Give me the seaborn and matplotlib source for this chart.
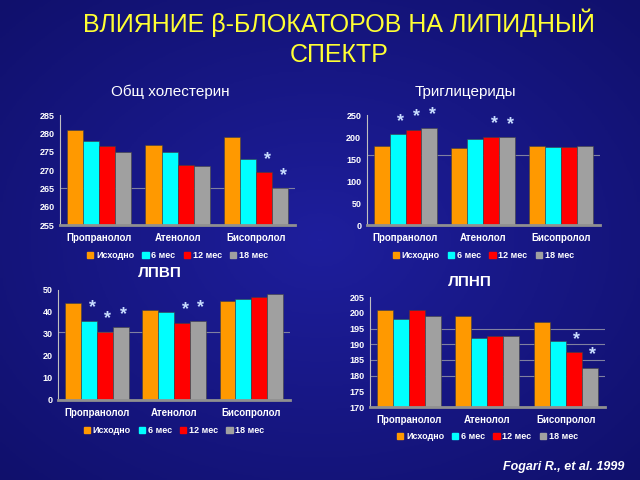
import numpy as np
import pandas as pd
import seaborn as sns
import matplotlib.pyplot as plt
from matplotlib.patches import Patch

# Data
drugs = ['Пропранолол', 'Атенолол', 'Бисопролол']
periods = ['Исходно', '6 мес', '12 мес', '18 мес']
colors = ['#ff9900', '#00ffff', '#ff0000', '#a0a0a0']

chol = [[281, 278, 276.5, 275], [277, 275, 271.5, 271], [279, 273, 269.5, 265]]
tg = [[181, 207, 217, 222], [175, 195, 201, 200], [180, 178, 177, 180]]
hdl = [[44, 36, 31, 33], [41, 40, 35, 36], [45, 46, 47, 48]]
ldl = [[201, 198, 201, 199], [199, 192, 192.5, 192.5], [197, 191, 187.5, 182.5]]

# significance marks: (drug index, period index)
chol_stars = [(2, 2), (2, 3)]
tg_stars = [(0, 1), (0, 2), (0, 3), (1, 2), (1, 3)]
hdl_stars = [(0, 1), (0, 2), (0, 3), (1, 2), (1, 3)]
ldl_stars = [(2, 2), (2, 3)]

sns.set_style('white')
plt.rcParams['font.family'] = ['Liberation Sans', 'DejaVu Sans']

fig = plt.figure(figsize=(6.4, 4.8), dpi=100)

# dark blue slide background
bg = fig.add_axes([0, 0, 1, 1])
yy, xx = np.mgrid[0:1:200j, 0:1:200j]
r = np.sqrt((xx - 0.5) ** 2 + (yy - 0.5) ** 2)
bg.imshow(r, cmap=sns.blend_palette(['#1e1e9c', '#10106c'], as_cmap=True),
          extent=[0, 1, 0, 1], aspect='auto')
bg.axis('off')


def panel(rect, values, ylim, step, stars, title, title_xy, legend_y, grid=()):
    ax = fig.add_axes(rect)
    df = pd.DataFrame([(d, p, values[i][j]) for i, d in enumerate(drugs)
                       for j, p in enumerate(periods)],
                      columns=['drug', 'period', 'value'])
    sns.barplot(data=df, x='drug', y='value', hue='period', palette=colors,
                ax=ax, width=0.82, saturation=1, edgecolor='#404040',
                linewidth=0.4, legend=False)
    ax.set_facecolor('none')
    ax.set_ylim(*ylim)
    ax.set_yticks(np.arange(ylim[0], ylim[1] + 1, step))
    for g in grid:
        ax.axhline(g, color='#8080a0', lw=0.8, zorder=0)
    ax.set_xlabel('')
    ax.set_ylabel('')
    ax.tick_params(colors='white', labelsize=6.5, length=2, pad=2)
    ax.tick_params(axis='x', labelsize=7, length=0, pad=6)
    for lab in ax.get_xticklabels() + ax.get_yticklabels():
        lab.set_fontweight('bold')
    for s in ['top', 'right']:
        ax.spines[s].set_visible(False)
    ax.spines['left'].set_color('#c0c0c0')
    ax.spines['bottom'].set_color('#909090')
    ax.spines['bottom'].set_linewidth(2)
    for di, pi in stars:
        bar = ax.containers[pi][di]
        x = bar.get_x() + bar.get_width() * 0.7
        y = bar.get_height() + (ylim[1] - ylim[0]) * 0.04
        ax.text(x, y, '*', color='#c8dcff', fontsize=13, fontweight='bold',
                ha='center', va='bottom')
    fig.text(title_xy[0], title_xy[1], title, color='white',
             fontsize=11, ha='center', va='center',
             fontweight='bold' if title.startswith('ЛП') else 'normal')
    handles = [Patch(color=c, label=p) for c, p in zip(colors, periods)]
    fig.legend(handles=handles, loc='center',
               bbox_to_anchor=(rect[0] + rect[2] / 2, legend_y), ncol=4,
               frameon=False, handlelength=0.7, handleheight=0.7,
               handletextpad=0.3, columnspacing=0.9,
               prop={'weight': 'bold', 'size': 6.5}, labelcolor='white')
    return ax


panel([0.094, 0.531, 0.367, 0.229], chol, (255, 285), 5, chol_stars,
      'Общ холестерин', (0.266, 0.808), 0.468, grid=[265])
panel([0.573, 0.531, 0.364, 0.229], tg, (0, 250), 50, tg_stars,
      'Триглицериды', (0.727, 0.808), 0.468, grid=[160])
panel([0.091, 0.167, 0.362, 0.229], hdl, (0, 50), 10, hdl_stars,
      'ЛПВП', (0.25, 0.431), 0.103, grid=[31])
panel([0.578, 0.152, 0.367, 0.229], ldl, (170, 205), 5, ldl_stars,
      'ЛПНП', (0.734, 0.413), 0.09, grid=[180, 185, 190, 195])

fig.text(0.53, 0.952, 'ВЛИЯНИЕ β-БЛОКАТОРОВ НА ЛИПИДНЫЙ', color='#ffff33',
         fontsize=18, ha='center', va='center')
fig.text(0.53, 0.885, 'СПЕКТР', color='#ffff33', fontsize=18,
         ha='center', va='center')
fig.text(0.975, 0.028, 'Fogari R., et al. 1999', color='white', fontsize=9,
         fontweight='bold', fontstyle='italic', ha='right', va='center')

fig.savefig('out.png', dpi=100)
